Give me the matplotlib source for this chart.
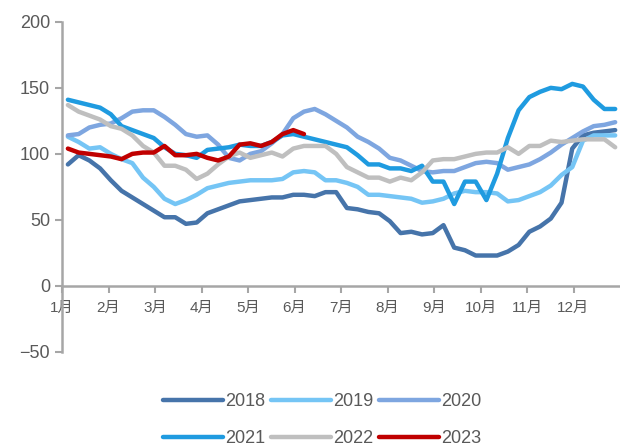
import matplotlib
matplotlib.use("Agg")
import matplotlib.pyplot as plt
import numpy as np

plt.rcParams['font.family'] = ['Liberation Sans', 'Noto Sans CJK SC', 'DejaVu Sans']

months = ['1月', '2月', '3月', '4月', '5月', '6月', '7月', '8月', '9月', '10月', '11月', '12月']
years = ['2018', '2019', '2020', '2021', '2022', '2023']

# weekly values
y2018 = [92, 99, 95, 89, 80, 72, 67, 62, 57, 52, 52, 47, 48, 55, 58, 61, 64, 65, 66, 67,
         67, 69, 69, 68, 71, 71, 59, 58, 56, 55, 49, 40, 41, 39, 40, 46, 29, 27, 23, 23,
         23, 26, 31, 41, 45, 51, 63, 104, 114, 116, 117, 118]
y2019 = [113, 109, 104, 105, 100, 96, 93, 82, 75, 66, 62, 65, 69, 74, 76, 78, 79, 80, 80, 80,
         81, 86, 87, 86, 80, 80, 78, 75, 69, 69, 68, 67, 66, 63, 64, 66, 70, 72, 71, 71,
         70, 64, 65, 68, 71, 76, 84, 90, 110, 114, 114, 114]
y2020 = [114, 115, 120, 122, 123, 127, 132, 133, 133, 128, 122, 115, 113, 114, 107, 97, 95, 100, 102, 108,
         115, 127, 132, 134, 130, 125, 120, 113, 109, 104, 97, 95, 91, 87, 86, 87, 87, 90, 93, 94,
         93, 88, 90, 92, 96, 101, 107, 112, 117, 121, 122, 124]
y2021 = [141, 139, 137, 135, 130, 121, 118, 115, 112, 105, 100, 99, 97, 103, 104, 105, 107, 106, 106, 109,
         114, 115, 113, 111, 109, 107, 105, 99, 92, 92, 89, 89, 87, 91, 79, 79, 62, 79, 79, 65,
         85, 112, 133, 143, 147, 150, 149, 153, 151, 141, 134, 134]
y2022 = [137, 132, 129, 126, 121, 119, 114, 106, 101, 91, 91, 88, 81, 85, 92, 98, 101, 97, 99, 101,
         98, 104, 106, 106, 106, 100, 90, 86, 82, 82, 79, 82, 80, 86, 95, 96, 96, 98, 100, 101,
         101, 105, 100, 106, 106, 110, 109, 110, 111, 111, 111, 105]
y2023 = [104, 101, 100, 99, 98, 96, 100, 101, 101, 106, 99, 99, 100, 97, 95, 98, 107, 108, 106, 109,
         115, 118, 115]

series = [y2018, y2019, y2020, y2021, y2022, y2023]
colors = ['#4674AA', '#75C5F5', '#7EA6E0', '#1F9BE0', '#BFBFBF', '#C00000']

fig = plt.figure(figsize=(6.2, 4.46), dpi=100)
ax = fig.add_axes([0.1, 0.211, 0.9, 0.74])

lines = []
for name, vals, c in zip(years, series, colors):
    x = (np.arange(len(vals)) + 0.55) * 12 / 52
    ln, = ax.plot(x, vals, color=c, lw=3.2, label=name, solid_capstyle='round', solid_joinstyle='round')
    lines.append(ln)

ax.set_xlim(0, 12)
ax.set_ylim(-50, 200)
ax.set_yticks([-50, 0, 50, 100, 150, 200])
ax.set_xticks(range(12))
ax.set_xticklabels(months)

for s in ['top', 'right']:
    ax.spines[s].set_visible(False)
ax.spines['bottom'].set_position(('data', 0))
ax.spines['left'].set_color('#A6A6A6')
ax.spines['bottom'].set_color('#A6A6A6')
ax.spines['left'].set_linewidth(1.8)
ax.spines['bottom'].set_linewidth(1.8)
ax.tick_params(axis='y', colors='#A6A6A6', length=5, width=1.5, labelcolor='#595959', labelsize=13)
ax.tick_params(axis='x', colors='#A6A6A6', length=5, width=1.5, labelcolor='#595959', labelsize=11, pad=6)

# legend fills column by column, so reorder to get rows 2018-2020 / 2021-2023
order = [0, 3, 1, 4, 2, 5]
fig.legend([lines[i] for i in order], [years[i] for i in order],
           loc='center', bbox_to_anchor=(0.52, 0.058), ncol=3, frameon=False,
           fontsize=13, handlelength=3.3, handletextpad=0.15, columnspacing=0.3,
           labelspacing=1.1, labelcolor='#595959')

fig.savefig('out.png', dpi=100)
